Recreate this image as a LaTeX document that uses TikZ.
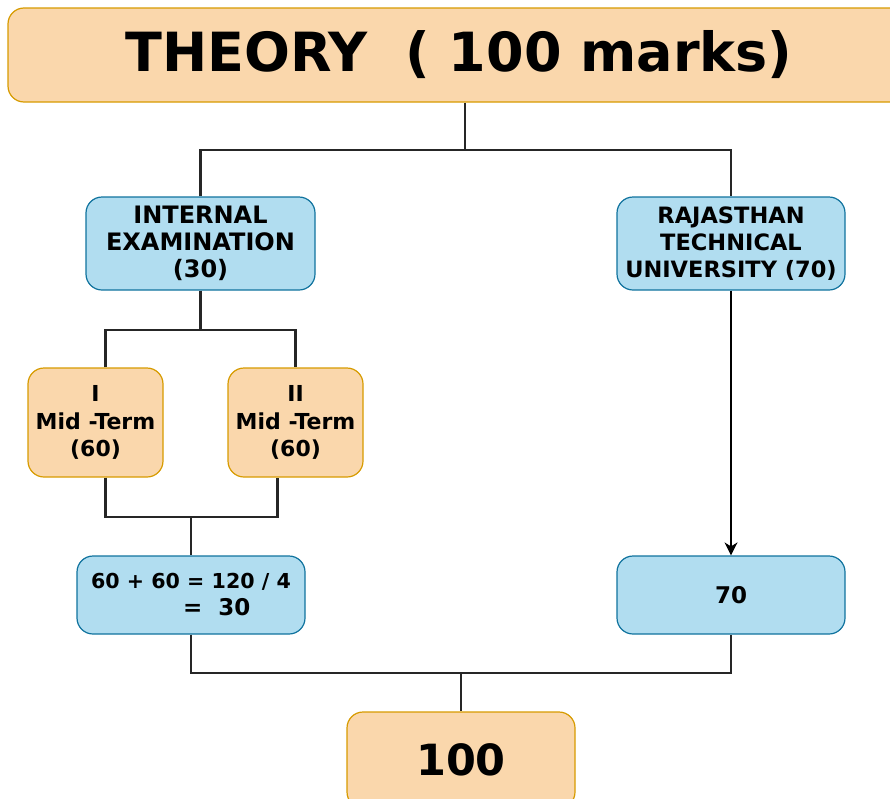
\documentclass[tikz,border=0pt]{standalone}
\usepackage{fontspec}
\setmainfont{DejaVu Sans}
\usetikzlibrary{arrows.meta}
\definecolor{peachfill}{HTML}{FAD7AC}
\definecolor{peachdraw}{HTML}{D79B00}
\definecolor{bluefill}{HTML}{B1DDF0}
\definecolor{bluedraw}{HTML}{10739E}
\begin{document}
\begin{tikzpicture}
[x=1pt,y=-1pt,
  orangebox/.style={shape=rectangle,rounded corners=16pt,draw=peachdraw,fill=peachfill,
    line width=1.2pt,align=center,inner sep=0pt,font=\bfseries},%
  bluebox/.style={shape=rectangle,rounded corners=16pt,draw=bluedraw,fill=bluefill,
    line width=1.2pt,align=center,inner sep=0pt,font=\bfseries},%
  linedecorate/.style={-,line width=2.6pt,black!85},%
  arrowdecorate/.style={-{Stealth[length=13pt,width=13pt,inset=4pt]},line width=1.4pt}]
\useasboundingbox (0,0) rectangle (890,798);
%% nodes or vertices
\node (top) at (465,55) [orangebox,minimum width=914pt,minimum height=94pt,
  font=\bfseries\fontsize{54}{60}\selectfont] {THEORY\ \ ( 100 marks)\hspace*{12pt}};
\node (internal) at (200.5,243.5) [bluebox,minimum width=229pt,minimum height=93pt,
  font=\bfseries\fontsize{24}{27}\selectfont] {INTERNAL\\EXAMINATION\\(30)};
\node (rtu) at (731,243.5) [bluebox,minimum width=228pt,minimum height=93pt,
  font=\bfseries\fontsize{22.5}{27}\selectfont] {RAJASTHAN\\TECHNICAL\\UNIVERSITY (70)};
\node (midI) at (95.5,422.5) [orangebox,minimum width=135pt,minimum height=109pt,
  font=\bfseries\fontsize{22}{27.5}\selectfont] {I\\Mid -Term\\(60)};
\node (midII) at (295.5,422.5) [orangebox,minimum width=135pt,minimum height=109pt,
  font=\bfseries\fontsize{22}{27.5}\selectfont] {II\\Mid -Term\\(60)};
\node (calc) at (191,595) [bluebox,minimum width=228pt,minimum height=78pt,align=left,
  font=\bfseries\fontsize{20.6}{27}\selectfont]
  {60 + 60 = 120 / 4\\\hspace*{92pt}{\fontsize{23}{27}\selectfont =\ \ 30}};
\node (seventy) at (731,595) [bluebox,minimum width=228pt,minimum height=78pt,
  font=\bfseries\fontsize{23}{27}\selectfont] {70};
\node (hundred) at (461,760) [orangebox,minimum width=228pt,minimum height=96pt,
  font=\bfseries\fontsize{43}{50}\selectfont] {100};
%% join points
\coordinate (topjoin) at (465,150);
\coordinate (intjoin) at (200.5,330);
\coordinate (midjoin) at (191,517);
\coordinate (botjoin) at (461,673);
%% edges or lines
\draw[linedecorate] (top.south) -- (topjoin);
\draw[linedecorate] (internal.north) |- (topjoin) -| (rtu.north);
\draw[linedecorate] (internal.south) -- (intjoin);
\draw[linedecorate] ([xshift=10pt]midI.north) |- (intjoin) -| (midII.north);
\draw[linedecorate] ([xshift=10pt]midI.south) |- (midjoin) -| ([xshift=-18pt]midII.south);
\draw[linedecorate] (midjoin) -- (calc.north);
\draw[linedecorate] (calc.south) |- (botjoin) -| (seventy.south);
\draw[linedecorate] (botjoin) -- (hundred.north);
\draw[arrowdecorate] (rtu.south) -- (seventy.north);
\end{tikzpicture}
\end{document}
